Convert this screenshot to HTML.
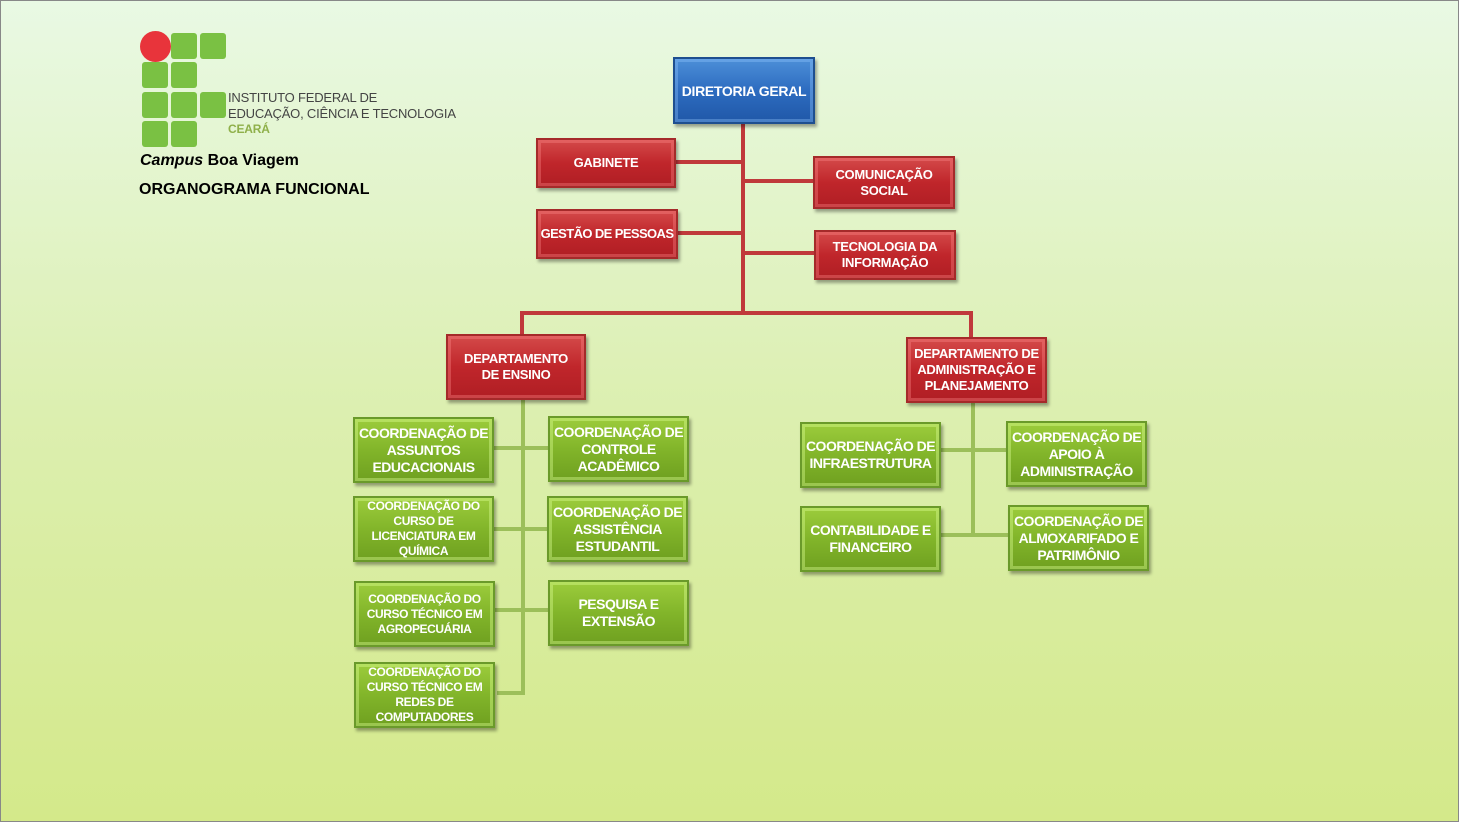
<!DOCTYPE html>
<html><head><meta charset="utf-8"><style>
body{margin:0;width:1459px;height:822px;overflow:hidden;font-family:"Liberation Sans",sans-serif;}
#bg{position:absolute;left:0;top:0;width:1459px;height:822px;background:linear-gradient(#e9f9e4,#dcefb0 50%,#d4e98a);border:1px solid #888;box-sizing:border-box}
.b{position:absolute;display:flex;align-items:center;justify-content:center;text-align:center;color:#fff;font-weight:bold;font-size:13px;line-height:16px;box-sizing:border-box;white-space:nowrap;letter-spacing:-0.3px}
.r{background:linear-gradient(#d44a4a,#c0262b 50%,#b01e24);border:2px solid #a52a2a;box-shadow:inset 0 0 0 3px rgba(255,140,140,.35),2px 3px 3px rgba(0,0,0,.35)}
.u{background:linear-gradient(#4d8fd8,#2d6cc0 50%,#2058a8);border:2px solid #1e4f90;box-shadow:inset 0 0 0 3px rgba(150,200,255,.35),2px 3px 3px rgba(0,0,0,.35);font-size:14px}
.g{background:linear-gradient(#9ccc3c,#82b52a 50%,#6fa020);border:2px solid #6a9a2a;box-shadow:inset 0 0 0 3px rgba(220,255,150,.4),2px 3px 3px rgba(0,0,0,.35);font-size:14px;line-height:17px;letter-spacing:-0.5px}
.s{font-size:12px;line-height:15px;letter-spacing:-0.4px}
.l{position:absolute}
.lr{background:#c0393b}
.lg{background:#9cbf5a}
.sq{position:absolute;width:26px;height:26px;background:#7ac143;border-radius:3px}
</style></head><body><div id="bg"></div>
<div class="sq" style="left:171px;top:33px"></div><div class="sq" style="left:200px;top:33px"></div>
<div class="sq" style="left:142px;top:62px"></div><div class="sq" style="left:171px;top:62px"></div>
<div class="sq" style="left:142px;top:92px"></div><div class="sq" style="left:171px;top:92px"></div><div class="sq" style="left:200px;top:92px"></div>
<div class="sq" style="left:142px;top:121px"></div><div class="sq" style="left:171px;top:121px"></div>
<div style="position:absolute;left:140px;top:31px;width:31px;height:31px;border-radius:50%;background:#e8343b"></div>
<div style="position:absolute;left:228px;top:90px;font-size:13px;line-height:15.5px;color:#444;letter-spacing:-0.2px">INSTITUTO FEDERAL DE<br>EDUCAÇÃO, CIÊNCIA E TECNOLOGIA<br><b style="color:#8fb04a;font-size:12px">CEARÁ</b></div>
<div style="position:absolute;left:140px;top:152px;font-size:16px;color:#000;font-weight:bold"><i>Campus</i> Boa Viagem</div>
<div style="position:absolute;left:139px;top:181px;font-size:16px;color:#000;font-weight:bold">ORGANOGRAMA FUNCIONAL</div>

<div class="l lr" style="left:741px;top:124px;width:4px;height:191px"></div>
<div class="l lr" style="left:520px;top:311px;width:453px;height:4px"></div>
<div class="l lr" style="left:520px;top:311px;width:4px;height:24px"></div>
<div class="l lr" style="left:969px;top:311px;width:4px;height:27px"></div>
<div class="l lr" style="left:676px;top:160px;width:67px;height:4px"></div>
<div class="l lr" style="left:678px;top:231px;width:65px;height:4px"></div>
<div class="l lr" style="left:743px;top:179px;width:70px;height:4px"></div>
<div class="l lr" style="left:743px;top:251px;width:71px;height:4px"></div>

<div class="l lg" style="left:521px;top:400px;width:4px;height:295px"></div>
<div class="l lg" style="left:494px;top:446px;width:54px;height:4px"></div>
<div class="l lg" style="left:494px;top:527px;width:54px;height:4px"></div>
<div class="l lg" style="left:494px;top:608px;width:54px;height:4px"></div>
<div class="l lg" style="left:497px;top:691px;width:28px;height:4px"></div>
<div class="l lg" style="left:971px;top:403px;width:4px;height:134px"></div>
<div class="l lg" style="left:941px;top:448px;width:65px;height:4px"></div>
<div class="l lg" style="left:941px;top:533px;width:67px;height:4px"></div>

<div class="b u" style="left:673px;top:57px;width:142px;height:67px">DIRETORIA GERAL</div>
<div class="b r" style="left:536px;top:138px;width:140px;height:50px">GABINETE</div>
<div class="b r" style="left:536px;top:209px;width:142px;height:50px;letter-spacing:-0.6px">GESTÃO DE PESSOAS</div>
<div class="b r" style="left:813px;top:156px;width:142px;height:53px">COMUNICAÇÃO<br>SOCIAL</div>
<div class="b r" style="left:814px;top:230px;width:142px;height:50px">TECNOLOGIA DA<br>INFORMAÇÃO</div>
<div class="b r" style="left:446px;top:334px;width:140px;height:66px">DEPARTAMENTO<br>DE ENSINO</div>
<div class="b r" style="left:906px;top:337px;width:141px;height:66px">DEPARTAMENTO DE<br>ADMINISTRAÇÃO E<br>PLANEJAMENTO</div>

<div class="b g" style="left:353px;top:417px;width:141px;height:66px">COORDENAÇÃO DE<br>ASSUNTOS<br>EDUCACIONAIS</div>
<div class="b g" style="left:548px;top:416px;width:141px;height:66px">COORDENAÇÃO DE<br>CONTROLE<br>ACADÊMICO</div>
<div class="b g s" style="left:353px;top:496px;width:141px;height:66px">COORDENAÇÃO DO<br>CURSO DE<br>LICENCIATURA EM<br>QUÍMICA</div>
<div class="b g" style="left:547px;top:496px;width:141px;height:66px">COORDENAÇÃO DE<br>ASSISTÊNCIA<br>ESTUDANTIL</div>
<div class="b g s" style="left:354px;top:581px;width:141px;height:66px">COORDENAÇÃO DO<br>CURSO TÉCNICO EM<br>AGROPECUÁRIA</div>
<div class="b g" style="left:548px;top:580px;width:141px;height:66px">PESQUISA E<br>EXTENSÃO</div>
<div class="b g s" style="left:354px;top:662px;width:141px;height:66px">COORDENAÇÃO DO<br>CURSO TÉCNICO EM<br>REDES DE<br>COMPUTADORES</div>
<div class="b g" style="left:800px;top:422px;width:141px;height:66px">COORDENAÇÃO DE<br>INFRAESTRUTURA</div>
<div class="b g" style="left:1006px;top:421px;width:141px;height:66px">COORDENAÇÃO DE<br>APOIO À<br>ADMINISTRAÇÃO</div>
<div class="b g" style="left:800px;top:506px;width:141px;height:66px">CONTABILIDADE E<br>FINANCEIRO</div>
<div class="b g" style="left:1008px;top:505px;width:141px;height:66px">COORDENAÇÃO DE<br>ALMOXARIFADO E<br>PATRIMÔNIO</div>
</body></html>
